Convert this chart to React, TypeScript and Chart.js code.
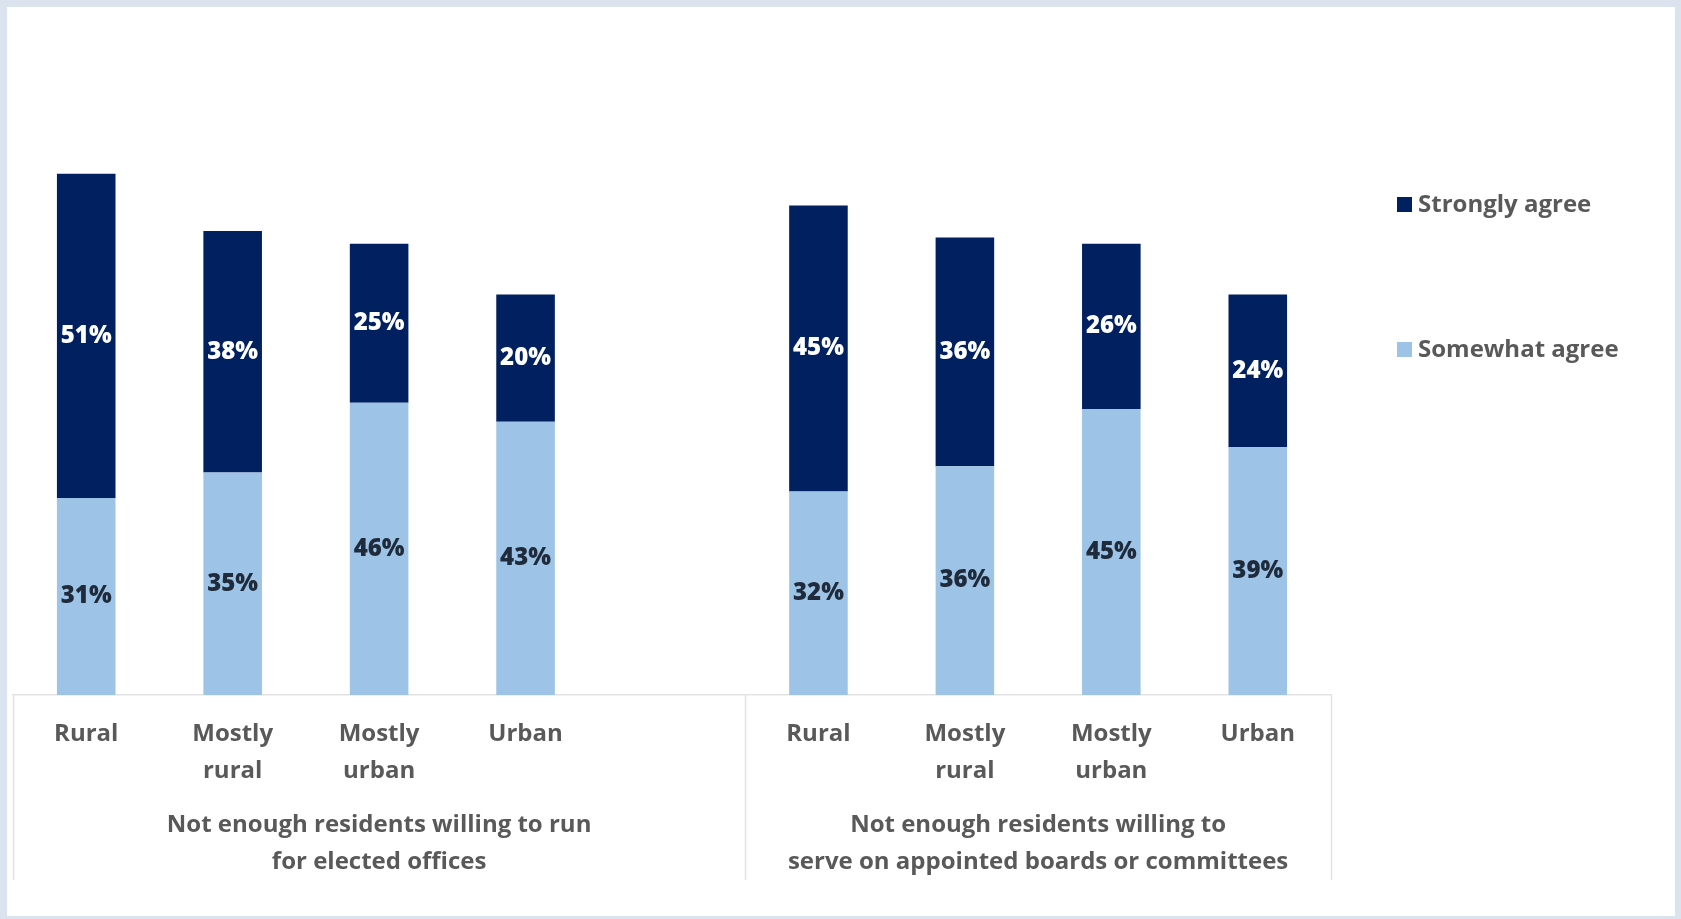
import React, { useEffect, useRef } from "react";
import { Chart, registerables } from "chart.js";
Chart.register(...registerables);

const categories: (string | string[])[] = [
  "Rural", ["Mostly", "rural"], ["Mostly", "urban"], "Urban", "",
  "Rural", ["Mostly", "rural"], ["Mostly", "urban"], "Urban",
];
const somewhatAgree: (number | null)[] = [31, 35, 46, 43, null, 32, 36, 45, 39];
const stronglyAgree: (number | null)[] = [51, 38, 25, 20, null, 45, 36, 26, 24];
const seriesNames = ["Somewhat agree", "Strongly agree"];
const groupLabels: string[][] = [
  ["Not enough residents willing to run", "for elected offices"],
  ["Not enough residents willing to", "serve on appointed boards or committees"],
];
const groupSpans: number[][] = [[0, 4], [5, 8]];

const DARK = "#002060";
const LIGHT = "#9dc3e6";
const TEXT = "#595959";
const FONT = "'Open Sans', sans-serif";

const dataLabelPlugin = {
  id: "dataLabels",
  afterDatasetsDraw(chart: any) {
    const ctx = chart.ctx;
    ctx.save();
    ctx.font = `800 24px ${FONT}`;
    ctx.textAlign = "center";
    ctx.textBaseline = "middle";
    chart.data.datasets.forEach((ds: any, di: number) => {
      const meta = chart.getDatasetMeta(di);
      meta.data.forEach((el: any, i: number) => {
        const v = ds.data[i];
        if (v == null) return;
        ctx.fillStyle = di === 1 ? "#ffffff" : "#1f2a3a";
        ctx.fillText(`${v}%`, el.x, (el.y + el.base) / 2);
      });
    });
    ctx.restore();
  },
};

const groupPlugin = {
  id: "groups",
  afterDraw(chart: any) {
    const ctx = chart.ctx;
    const xs = chart.scales.x;
    const bottom = chart.chartArea.bottom;
    const step = xs.width / categories.length;
    ctx.save();
    ctx.strokeStyle = "#e3e3e3";
    ctx.lineWidth = 1.5;
    const bounds = new Set<number>();
    groupSpans.forEach(([a, b]) => {
      bounds.add(Math.round(xs.getPixelForValue(a) - step / 2));
      bounds.add(Math.round(xs.getPixelForValue(b) + step / 2));
    });
    bounds.forEach((x) => {
      ctx.beginPath();
      ctx.moveTo(x + 0.5, bottom);
      ctx.lineTo(x + 0.5, bottom + 185);
      ctx.stroke();
    });
    ctx.font = `700 24px ${FONT}`;
    ctx.fillStyle = TEXT;
    ctx.textAlign = "center";
    ctx.textBaseline = "middle";
    groupSpans.forEach(([a, b], gi) => {
      const cx = (xs.getPixelForValue(a) - step / 2 + xs.getPixelForValue(b) + step / 2) / 2;
      groupLabels[gi].forEach((line, li) => {
        ctx.fillText(line, cx, bottom + 130 + li * 37);
      });
    });
    ctx.restore();
  },
};

const legendPlugin = {
  id: "sideLegend",
  afterDraw(chart: any) {
    const ctx = chart.ctx;
    const x0 = chart.chartArea.right + 66;
    const ds = [...chart.data.datasets].reverse();
    ctx.save();
    ctx.font = `700 24px ${FONT}`;
    ctx.textBaseline = "middle";
    ds.forEach((d: any, i: number) => {
      const y = 204 + i * 145;
      ctx.fillStyle = d.backgroundColor;
      ctx.fillRect(x0, y - 7, 15, 15);
      ctx.fillStyle = TEXT;
      ctx.fillText(d.label, x0 + 21, y + 1);
    });
    ctx.restore();
  },
};

export default function App() {
  const ref = useRef<HTMLCanvasElement | null>(null);
  useEffect(() => {
    document.body.style.margin = "0";
    const chart = new Chart(ref.current as HTMLCanvasElement, {
      type: "bar",
      data: {
        labels: categories as any,
        datasets: [
          { label: seriesNames[0], data: somewhatAgree, backgroundColor: LIGHT, barPercentage: 0.4, categoryPercentage: 1 },
          { label: seriesNames[1], data: stronglyAgree, backgroundColor: DARK, barPercentage: 0.4, categoryPercentage: 1 },
        ],
      },
      options: {
        animation: false,
        responsive: false,
        layout: { padding: { left: 13, right: 350, top: 123, bottom: 0 } },
        plugins: { legend: { display: false }, tooltip: { enabled: false } },
        scales: {
          x: {
            stacked: true,
            grid: { display: false, drawTicks: false },
            border: { display: true, color: "#e3e3e3", width: 1.5 },
            ticks: {
              autoSkip: false,
              maxRotation: 0,
              minRotation: 0,
              padding: 21,
              color: TEXT,
              font: { family: FONT, size: 24, weight: 700 as any, lineHeight: 1.53 },
            },
            afterFit: (s: any) => { s.height = 224; },
          },
          y: {
            stacked: true,
            display: false,
            min: 0,
            max: 90,
          },
        },
      },
      plugins: [dataLabelPlugin, groupPlugin, legendPlugin],
    });
    return () => chart.destroy();
  }, []);
  return (
    <div style={{ position: "absolute", left: 0, top: 0, width: 1681, height: 919, background: "#dbe4ee" }}>
      <div style={{ position: "absolute", left: 7, top: 7, width: 1668, height: 909, background: "#ffffff" }} />
      <canvas ref={ref} width={1681} height={919} style={{ position: "absolute", left: 0, top: 0 }} />
    </div>
  );
}
